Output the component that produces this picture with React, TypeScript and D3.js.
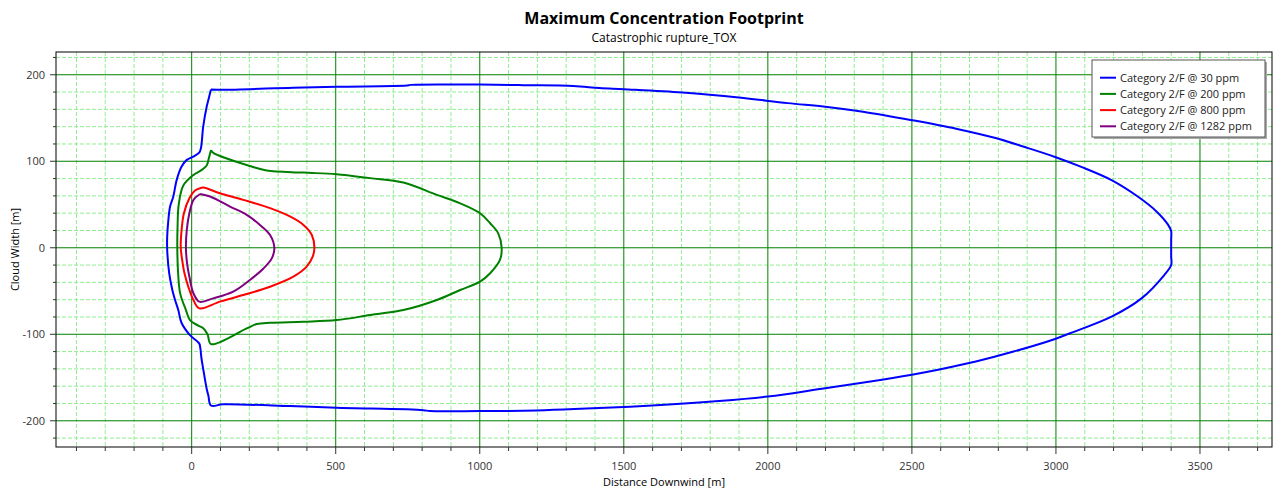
import React from 'react';
import * as d3 from 'd3';

type Pt = [number, number];

// contour points [distance downwind, cloud width]
const blueContour: Pt[] = [
  [67, 183], [110, 182.6], [352, 185], [503, 186.2], [746, 187.5], [760, 188.3], [897, 188.8],
  [1001, 188.8], [1151, 188], [1325, 187], [1415, 184.6], [1500, 183.2], [1703, 179.4],
  [1899, 173.7], [2069, 167.2], [2199, 163], [2330, 157.3], [2500, 147.5], [2657, 137.4],
  [2787, 127.1], [2892, 116.4], [2997, 105], [3088, 93.5], [3193, 78.2], [3284, 59.2],
  [3349, 42], [3389, 26.7], [3400, 19], [3400, 10], [3400, -10], [3400, -20], [3376, -31.5], [3297, -58.5],
  [3193, -79.6], [3049, -98.8], [2997, -105.4], [2853, -120], [2722, -131.5], [2591, -141],
  [2500, -146.7], [2356, -154.6], [2199, -162.3], [2000, -172], [1807, -177.7], [1598, -182.3],
  [1415, -185.3], [1151, -188.5], [1001, -188.8], [827, -188.8], [804, -187.7], [503, -185],
  [341, -183], [110, -181], [67, -182.3], [58, -171], [52, -163], [40, -140], [34, -128],
  [30, -116], [26, -110.5], [-6, -101], [-35, -87], [-46.5, -72], [-58, -60], [-67, -49], [-78, -29.5],
  [-85, -2.5], [-85, 13], [-81, 32], [-75, 47.6], [-64, 59], [-52, 78.5], [-35, 94],
  [-17, 101.6], [5.5, 105.4], [26, 110], [32, 115], [40, 140], [52, 163], [58, 171], [67, 183],
];

const greenContour: Pt[] = [
  [67, 112.9], [75, 109.7], [208, 93.9], [260, 89.3], [388, 86.9], [503, 85], [619, 80.5],
  [735, 75.4], [851, 61.1], [932, 51.4], [1001, 39.9], [1036, 28.3], [1064, 16.7], [1076, 0],
  [1070, -14.1], [1036, -29.5], [1001, -39.2], [932, -48.8], [851, -60.4], [735, -72],
  [619, -77.8], [503, -83.6], [388, -85.5], [272, -86.7], [226, -88.2], [191, -93.2],
  [67, -111.3], [55, -100], [40, -93], [23, -90], [-6, -83.6], [-20, -72], [-40, -52.7], [-47, -30],
  [-50, 0], [-49, 24.5], [-45, 50], [-29, 72], [5.5, 84], [35, 90], [52, 95], [60, 104], [67, 112.9],
];

const redContour: Pt[] = [
  [29, 68.8], [40, 69.6], [98, 63], [179, 55.4], [272, 45.8], [341, 36.2], [388, 26.4],
  [417, 14.8], [426, 0], [420, -10.3], [399, -21.8], [353, -33.4], [272, -45], [179, -54.6],
  [98, -62.3], [26.5, -70], [6, -60.4], [-11.7, -45], [-25, -29.5], [-33, -14], [-38, 0],
  [-35, 20.6], [-27, 39.9], [-8, 57.3], [11.5, 66.2], [29, 68.8],
];

const purpleContour: Pt[] = [
  [29, 62.2], [64, 59.2], [133, 47.6], [191, 38], [237, 26.4], [272, 14.8], [287, 0],
  [278, -12.3], [249, -23.9], [202, -37.2], [144, -50.7], [75, -58.5], [26.5, -62.3],
  [6, -52.6], [-8, -33.5], [-16, -18], [-20, 0], [-17, 20.6], [-8, 39.9], [6, 55.3], [29, 62.2],
];

const seriesNames = [
  'Category 2/F @ 30 ppm',
  'Category 2/F @ 200 ppm',
  'Category 2/F @ 800 ppm',
  'Category 2/F @ 1282 ppm',
];
const seriesColors = ['#0000ff', '#008000', '#ff0000', '#800080'];
const seriesData = [blueContour, greenContour, redContour, purpleContour];

const xMajorTicks = [0, 500, 1000, 1500, 2000, 2500, 3000, 3500];
const yMajorTicks = [-200, -100, 0, 100, 200];

const W = 1275;
const H = 490;
const FONT = '"Segoe UI", "Open Sans", "Noto Sans", sans-serif';

export default function App() {
  const left = 56, right = 1272, top = 52, bottom = 447;

  const x = d3.scaleLinear().domain([-471, 3750]).range([left, right]);
  const y = d3.scaleLinear().domain([-230.3, 226.3]).range([bottom, top]);

  const xMinor = d3.range(-400, 3751, 100).filter(v => v % 500 !== 0);
  const yMinor = d3.range(-220, 227, 20).filter(v => v % 100 !== 0);

  const line = d3.line<Pt>()
    .x(d => x(d[0]))
    .y(d => y(d[1]))
    .curve(d3.curveCatmullRom.alpha(0.5));

  return (
    <svg width={W} height={H} style={{ position: 'absolute', left: 0, top: 0, display: 'block', background: '#fff' }}
      fontFamily={FONT}>
      <text x={664} y={24} textAnchor="middle" fontSize={16} fontWeight="bold" fill="#000">
        Maximum Concentration Footprint
      </text>
      <text x={664} y={42} textAnchor="middle" fontSize={12} fill="#000">
        Catastrophic rupture_TOX
      </text>

      <defs>
        <clipPath id="plot">
          <rect x={left} y={top} width={right - left} height={bottom - top} />
        </clipPath>
      </defs>

      {/* minor grid */}
      <g stroke="#90ee90" strokeWidth={1} strokeDasharray="4,2">
        {xMinor.map(v => <line key={'xm' + v} x1={x(v)} x2={x(v)} y1={top} y2={bottom} />)}
        {yMinor.map(v => <line key={'ym' + v} x1={left} x2={right} y1={y(v)} y2={y(v)} />)}
      </g>
      {/* major grid */}
      <g stroke="#008000" strokeWidth={1}>
        {xMajorTicks.map(v => <line key={'xM' + v} x1={x(v)} x2={x(v)} y1={top} y2={bottom} />)}
        {yMajorTicks.map(v => <line key={'yM' + v} x1={left} x2={right} y1={y(v)} y2={y(v)} />)}
      </g>

      <g clipPath="url(#plot)" fill="none" strokeWidth={2} strokeLinejoin="round">
        {seriesData.map((d, i) => (
          <path key={i} d={line(d) || ''} stroke={seriesColors[i]} />
        ))}
      </g>

      <rect x={left} y={top} width={right - left} height={bottom - top} fill="none" stroke="#000" strokeWidth={1} />

      {/* axis ticks */}
      <g stroke="#333" strokeWidth={1}>
        {xMinor.map(v => <line key={'xt' + v} x1={x(v)} x2={x(v)} y1={bottom} y2={bottom + 4} />)}
        {xMajorTicks.map(v => <line key={'xT' + v} x1={x(v)} x2={x(v)} y1={bottom} y2={bottom + 7} />)}
        {yMinor.map(v => <line key={'yt' + v} x1={left - 3} x2={left} y1={y(v)} y2={y(v)} />)}
        {yMajorTicks.map(v => <line key={'yT' + v} x1={left - 6} x2={left} y1={y(v)} y2={y(v)} />)}
      </g>
      <g fontSize={11} fill="#333">
        {xMajorTicks.map(v => (
          <text key={'xl' + v} x={x(v)} y={470} textAnchor="middle">{String(v)}</text>
        ))}
        {yMajorTicks.map(v => (
          <text key={'yl' + v} x={45} y={y(v) + 4} textAnchor="end">{String(v)}</text>
        ))}
      </g>

      <text x={664} y={486} textAnchor="middle" fontSize={11} fill="#000">Distance Downwind [m]</text>
      <text transform={`translate(19,${(top + bottom) / 2}) rotate(-90)`} textAnchor="middle" fontSize={11} fill="#000">
        Cloud Width [m]
      </text>

      {/* legend */}
      <g>
        <rect x={1094} y={62} width={173} height={77} fill="#aaa" />
        <rect x={1092} y={60} width={173} height={77} fill="#fff" stroke="#555" strokeWidth={1} />
        {seriesNames.map((name, i) => (
          <g key={name} transform={`translate(0,${77.7 + i * 16.2})`}>
            <line x1={1100} x2={1116} y1={0} y2={0} stroke={seriesColors[i]} strokeWidth={2} />
            <text x={1120} y={4} fontSize={11} fill="#222">{name}</text>
          </g>
        ))}
      </g>
    </svg>
  );
}
